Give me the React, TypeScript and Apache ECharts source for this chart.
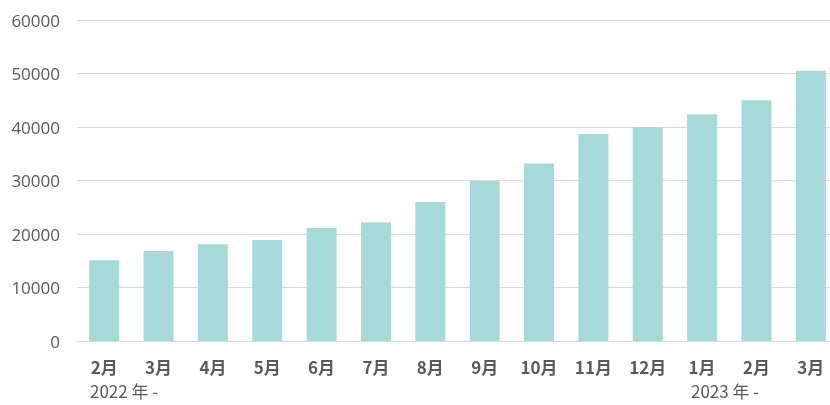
import React, { useEffect, useRef } from "react";
import * as echarts from "echarts";

const categories = ["2月", "3月", "4月", "5月", "6月", "7月", "8月", "9月", "10月", "11月", "12月", "1月", "2月", "3月"];
const values = [15100, 16800, 18100, 18900, 21100, 22200, 26000, 29900, 33200, 38700, 40000, 42400, 45000, 50500];
const yearLabels = ["2022 年 -", "2023 年 -"];

export default function App() {
  const ref = useRef<HTMLDivElement>(null);
  useEffect(() => {
    if (!ref.current) return;
    const chart = echarts.init(ref.current, null, { renderer: "svg" });
    chart.setOption({
      animation: false,
      grid: { left: 77, top: 20, right: 8, bottom: 64 },
      xAxis: {
        type: "category",
        data: categories,
        axisLine: { lineStyle: { color: "#d9d9d9" } },
        axisTick: { show: false },
        axisLabel: {
          color: "#595959",
          fontSize: 17,
          fontWeight: "bold",
          margin: 17,
          interval: 0,
          fontFamily: "Noto Sans CJK SC",
        },
      },
      yAxis: {
        type: "value",
        min: 0,
        max: 60000,
        interval: 10000,
        axisLine: { show: false },
        axisTick: { show: false },
        splitLine: { lineStyle: { color: "#d9d9d9" } },
        axisLabel: {
          color: "#595959",
          fontSize: 17,
          margin: 17,
          fontFamily: "Open Sans",
          formatter: (v: number) => String(v),
        },
      },
      series: [
        {
          type: "bar",
          data: values,
          barWidth: 30,
          itemStyle: { color: "#a6dad9" },
        },
      ],
      graphic: [
        {
          type: "text",
          left: 90,
          top: 382,
          style: { text: yearLabels[0], fill: "#595959", fontSize: 17, fontFamily: "Noto Sans CJK SC" },
        },
        {
          type: "text",
          left: 691,
          top: 382,
          style: { text: yearLabels[1], fill: "#595959", fontSize: 17, fontFamily: "Noto Sans CJK SC" },
        },
      ],
    });
    return () => chart.dispose();
  }, []);
  return (
    <div style={{ position: "fixed", left: 0, top: 0, width: 830, height: 405, overflow: "hidden" }}>
      <div ref={ref} style={{ width: 846, height: 405 }} />
    </div>
  );
}
